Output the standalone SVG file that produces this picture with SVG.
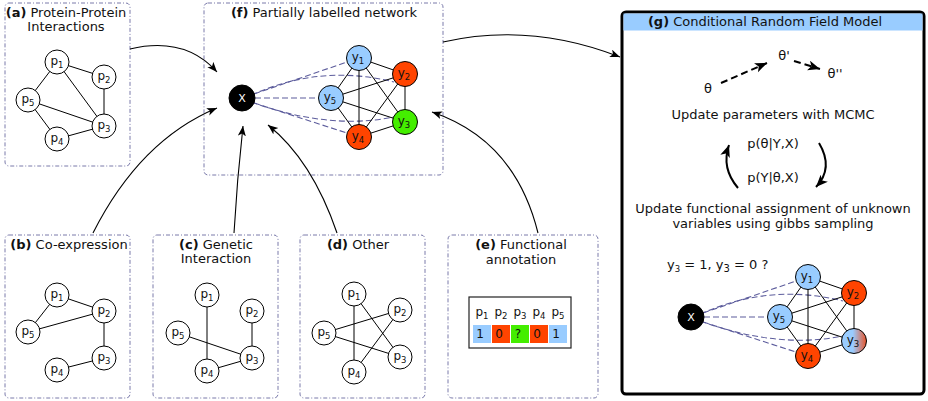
<svg xmlns="http://www.w3.org/2000/svg" width="928" height="401" viewBox="0 0 928 401">
  <defs>
    <style>
      text { font-family: "DejaVu Sans", "Liberation Sans", sans-serif; fill: #111; }
      .panel { fill: #fff; stroke: #7a7aaa; stroke-width: 1; stroke-dasharray: 4 2 1 2; }
      .title { font-size: 13px; text-anchor: middle; }
      .title tspan.b { font-weight: bold; }
      .node circle { fill: #fff; stroke: #000; stroke-width: 1; }
      .node circle.blue { fill: #99ccff; }
      .node circle.red { fill: #ff4400; }
      .node circle.green { fill: #44ee00; }
      .node circle.mixed { fill: url(#mixed); }
      .node circle.dark { fill: #000; }
      .lbl { font-size: 12px; text-anchor: middle; }
      .xl { font-size: 11px; text-anchor: middle; fill: #fff; }
      .sub { font-size: 8.5px; }
      .edge { stroke: #000; stroke-width: 1; fill: none; }
      .link { stroke: #5c5c9c; stroke-width: 1.1; fill: none; stroke-dasharray: 6 3; }
      .conn { stroke: #000; stroke-width: 1.1; fill: none; marker-end: url(#arrow); }
      .blue { fill: #99ccff; }
      .red { fill: #ff4400; }
      .green { fill: #44ee00; }
      .body { font-size: 13px; text-anchor: middle; }
    </style>
    <marker id="arrow" markerUnits="userSpaceOnUse" markerWidth="12" markerHeight="10" refX="10" refY="4" orient="auto">
      <path d="M0,0 L10,4 L0,8 L2.5,4 Z" fill="#000"/>
    </marker>
    <marker id="arrowBig" markerUnits="userSpaceOnUse" markerWidth="14" markerHeight="12" refX="12" refY="5" orient="auto">
      <path d="M0,0 L12,5 L0,10 L3,5 Z" fill="#000"/>
    </marker>
    <linearGradient id="mixed" x1="0" y1="0" x2="1" y2="0">
      <stop offset="0.45" stop-color="#99ccff"/>
      <stop offset="1" stop-color="#e8552a"/>
    </linearGradient>
  </defs>

  <!-- panel frames -->
  <g id="panel-a">
    <rect class="panel" x="5" y="3" width="125" height="163" rx="4"/>
    <text class="title" x="66" y="17"><tspan class="b">(a)</tspan> Protein-Protein</text>
    <text class="title" x="66" y="31">Interactions</text>
  </g>
  <g id="panel-b">
    <rect class="panel" x="5" y="235" width="125" height="163" rx="4"/>
    <text class="title" x="69" y="249"><tspan class="b">(b)</tspan> Co-expression</text>
  </g>
  <g id="panel-c">
    <rect class="panel" x="153" y="235" width="125" height="163" rx="4"/>
    <text class="title" x="216" y="249"><tspan class="b">(c)</tspan> Genetic</text>
    <text class="title" x="216" y="263">Interaction</text>
  </g>
  <g id="panel-d">
    <rect class="panel" x="300" y="235" width="125" height="163" rx="4"/>
    <text class="title" x="358" y="249"><tspan class="b">(d)</tspan> Other</text>
  </g>
  <g id="panel-e">
    <rect class="panel" x="448" y="235" width="150" height="163" rx="4"/>
    <text class="title" x="521" y="249"><tspan class="b">(e)</tspan> Functional</text>
    <text class="title" x="521" y="264">annotation</text>
  </g>
  <g id="panel-f">
    <rect class="panel" x="204" y="3" width="239" height="172" rx="4"/>
    <text class="title" x="324" y="17"><tspan class="b">(f)</tspan> Partially labelled network</text>
  </g>
  <g id="panel-g">
    <rect x="622" y="12" width="302" height="382" rx="4" fill="#fff" stroke="#000" stroke-width="3"/>
    <rect x="623.5" y="13.5" width="299" height="17" fill="#99ccff"/>
    <text class="title" x="765" y="26"><tspan class="b">(g)</tspan> Conditional Random Field Model</text>
  </g>

  <!-- (a) protein-protein interaction graph -->
  <g id="graph-a">
    <g class="edges">
      <line class="edge" x1="57" y1="62" x2="104" y2="77"/>
      <line class="edge" x1="57" y1="62" x2="28" y2="100"/>
      <line class="edge" x1="57" y1="62" x2="104" y2="126"/>
      <line class="edge" x1="104" y1="77" x2="104" y2="126"/>
      <line class="edge" x1="28" y1="100" x2="104" y2="126"/>
      <line class="edge" x1="28" y1="100" x2="57" y2="139"/>
      <line class="edge" x1="57" y1="139" x2="104" y2="126"/>
    </g>
    <g id="a-p1" class="node"><circle cx="57" cy="62" r="12"/><text class="lbl" x="57" y="65">p<tspan class="sub" dy="3">1</tspan></text></g>
    <g id="a-p2" class="node"><circle cx="104" cy="77" r="12"/><text class="lbl" x="104" y="80">p<tspan class="sub" dy="3">2</tspan></text></g>
    <g id="a-p5" class="node"><circle cx="28" cy="100" r="12"/><text class="lbl" x="28" y="103">p<tspan class="sub" dy="3">5</tspan></text></g>
    <g id="a-p3" class="node"><circle cx="104" cy="126" r="12"/><text class="lbl" x="104" y="129">p<tspan class="sub" dy="3">3</tspan></text></g>
    <g id="a-p4" class="node"><circle cx="57" cy="139" r="12"/><text class="lbl" x="57" y="142">p<tspan class="sub" dy="3">4</tspan></text></g>
  </g>

  <!-- (b) co-expression graph -->
  <g id="graph-b">
    <g class="edges">
      <line class="edge" x1="57" y1="295" x2="104" y2="311"/>
      <line class="edge" x1="57" y1="295" x2="28" y2="332"/>
      <line class="edge" x1="28" y1="332" x2="104" y2="311"/>
      <line class="edge" x1="104" y1="311" x2="104" y2="358"/>
      <line class="edge" x1="57" y1="370" x2="104" y2="358"/>
    </g>
    <g id="b-p1" class="node"><circle cx="57" cy="295" r="12"/><text class="lbl" x="57" y="298">p<tspan class="sub" dy="3">1</tspan></text></g>
    <g id="b-p2" class="node"><circle cx="104" cy="311" r="12"/><text class="lbl" x="104" y="314">p<tspan class="sub" dy="3">2</tspan></text></g>
    <g id="b-p5" class="node"><circle cx="28" cy="332" r="12"/><text class="lbl" x="28" y="335">p<tspan class="sub" dy="3">5</tspan></text></g>
    <g id="b-p3" class="node"><circle cx="104" cy="358" r="12"/><text class="lbl" x="104" y="361">p<tspan class="sub" dy="3">3</tspan></text></g>
    <g id="b-p4" class="node"><circle cx="57" cy="370" r="12"/><text class="lbl" x="57" y="373">p<tspan class="sub" dy="3">4</tspan></text></g>
  </g>

  <!-- (c) genetic interaction graph -->
  <g id="graph-c">
    <g class="edges">
      <line class="edge" x1="207" y1="295" x2="207" y2="371"/>
      <line class="edge" x1="252" y1="311" x2="252" y2="358"/>
      <line class="edge" x1="178" y1="333" x2="252" y2="358"/>
      <line class="edge" x1="207" y1="371" x2="252" y2="358"/>
    </g>
    <g id="c-p1" class="node"><circle cx="207" cy="295" r="12"/><text class="lbl" x="207" y="298">p<tspan class="sub" dy="3">1</tspan></text></g>
    <g id="c-p2" class="node"><circle cx="252" cy="311" r="12"/><text class="lbl" x="252" y="314">p<tspan class="sub" dy="3">2</tspan></text></g>
    <g id="c-p5" class="node"><circle cx="178" cy="333" r="12"/><text class="lbl" x="178" y="336">p<tspan class="sub" dy="3">5</tspan></text></g>
    <g id="c-p3" class="node"><circle cx="252" cy="358" r="12"/><text class="lbl" x="252" y="361">p<tspan class="sub" dy="3">3</tspan></text></g>
    <g id="c-p4" class="node"><circle cx="207" cy="371" r="12"/><text class="lbl" x="207" y="374">p<tspan class="sub" dy="3">4</tspan></text></g>
  </g>

  <!-- (d) other evidence graph -->
  <g id="graph-d">
    <g class="edges">
      <line class="edge" x1="354" y1="294" x2="354" y2="372"/>
      <line class="edge" x1="354" y1="294" x2="400" y2="357"/>
      <line class="edge" x1="324" y1="333" x2="400" y2="310"/>
      <line class="edge" x1="324" y1="333" x2="400" y2="357"/>
      <line class="edge" x1="354" y1="372" x2="400" y2="310"/>
    </g>
    <g id="d-p1" class="node"><circle cx="354" cy="294" r="12"/><text class="lbl" x="354" y="297">p<tspan class="sub" dy="3">1</tspan></text></g>
    <g id="d-p2" class="node"><circle cx="400" cy="310" r="12"/><text class="lbl" x="400" y="313">p<tspan class="sub" dy="3">2</tspan></text></g>
    <g id="d-p5" class="node"><circle cx="324" cy="333" r="12"/><text class="lbl" x="324" y="336">p<tspan class="sub" dy="3">5</tspan></text></g>
    <g id="d-p3" class="node"><circle cx="400" cy="357" r="12"/><text class="lbl" x="400" y="360">p<tspan class="sub" dy="3">3</tspan></text></g>
    <g id="d-p4" class="node"><circle cx="354" cy="372" r="12"/><text class="lbl" x="354" y="375">p<tspan class="sub" dy="3">4</tspan></text></g>
  </g>

  <!-- (e) annotation table -->
  <g id="table-e">
    <rect x="469" y="297" width="102" height="51" fill="#fff" stroke="#222" stroke-width="1.2"/>
    <text class="lbl" x="482" y="316">p<tspan class="sub" dy="3">1</tspan></text>
    <text class="lbl" x="501" y="316">p<tspan class="sub" dy="3">2</tspan></text>
    <text class="lbl" x="520" y="316">p<tspan class="sub" dy="3">3</tspan></text>
    <text class="lbl" x="539" y="316">p<tspan class="sub" dy="3">4</tspan></text>
    <text class="lbl" x="558" y="316">p<tspan class="sub" dy="3">5</tspan></text>
    <rect class="blue" x="473" y="325" width="18" height="18"/>
    <rect class="red" x="492" y="325" width="18" height="18"/>
    <rect class="green" x="511" y="325" width="18" height="18"/>
    <rect class="red" x="530" y="325" width="18" height="18"/>
    <rect class="blue" x="549" y="325" width="18" height="18"/>
    <text class="lbl" x="480" y="338">1</text>
    <text class="lbl" x="499" y="338">0</text>
    <text class="lbl" x="518" y="338">?</text>
    <text class="lbl" x="537" y="338">0</text>
    <text class="lbl" x="556" y="338">1</text>
  </g>

  <!-- (f) partially labelled network -->
  <g id="network-f">
    <g class="links">
      <line class="link" x1="254" y1="94" x2="347" y2="62"/>
      <path class="link" d="M254,94 Q322,64 394,82" stroke-dashoffset="3"/>
      <line class="link" x1="255" y1="98" x2="318" y2="98"/>
      <line class="link" x1="254" y1="103" x2="347" y2="133"/>
      <path class="link" d="M254,103 Q330,130 394,117" stroke-dashoffset="3"/>
    </g>
    <g class="edges">
      <line class="edge" x1="359" y1="58" x2="405" y2="74"/>
      <line class="edge" x1="359" y1="58" x2="331" y2="98"/>
      <line class="edge" x1="359" y1="58" x2="359" y2="137"/>
      <line class="edge" x1="359" y1="58" x2="405" y2="122"/>
      <line class="edge" x1="405" y1="74" x2="331" y2="98"/>
      <line class="edge" x1="405" y1="74" x2="359" y2="137"/>
      <line class="edge" x1="405" y1="74" x2="405" y2="122"/>
      <line class="edge" x1="331" y1="98" x2="405" y2="122"/>
      <line class="edge" x1="331" y1="98" x2="359" y2="137"/>
      <line class="edge" x1="359" y1="137" x2="405" y2="122"/>
    </g>
    <g id="f-x" class="node"><circle class="dark" cx="242" cy="98" r="13"/><text class="xl" x="242" y="102">X</text></g>
    <g id="f-y1" class="node"><circle class="blue" cx="359" cy="58" r="12.5"/><text class="lbl" x="358" y="61">y<tspan class="sub" dy="3">1</tspan></text></g>
    <g id="f-y2" class="node"><circle class="red" cx="405" cy="74" r="12.5"/><text class="lbl" x="404" y="77">y<tspan class="sub" dy="3">2</tspan></text></g>
    <g id="f-y5" class="node"><circle class="blue" cx="331" cy="98" r="12.5"/><text class="lbl" x="330" y="101">y<tspan class="sub" dy="3">5</tspan></text></g>
    <g id="f-y3" class="node"><circle class="green" cx="405" cy="122" r="12.5"/><text class="lbl" x="404" y="125">y<tspan class="sub" dy="3">3</tspan></text></g>
    <g id="f-y4" class="node"><circle class="red" cx="359" cy="137" r="12.5"/><text class="lbl" x="358" y="140">y<tspan class="sub" dy="3">4</tspan></text></g>
  </g>

  <!-- (g) CRF model contents -->
  <g id="crf-text">
    <text class="body" x="708" y="93">θ</text>
    <text class="body" x="784" y="60">θ'</text>
    <text class="body" x="835" y="78">θ''</text>
    <text class="body" x="773" y="119">Update parameters with MCMC</text>
    <text class="body" x="773" y="148">p(θ|Y,X)</text>
    <text class="body" x="773" y="182">p(Y|θ,X)</text>
    <text class="body" x="773" y="213">Update functional assignment of unknown</text>
    <text class="body" x="773" y="228">variables using gibbs sampling</text>
    <text class="body" x="667" y="269" style="text-anchor:start">y<tspan class="sub" font-size="10" dy="3">3</tspan><tspan dy="-3"> = 1, y</tspan><tspan font-size="10" dy="3">3</tspan><tspan dy="-3"> = 0 ?</tspan></text>
  </g>
  <g id="crf-arrows" fill="none" stroke="#000">
    <line x1="721" y1="83" x2="767" y2="63" stroke-width="2" stroke-dasharray="7 4" marker-end="url(#arrowBig)"/>
    <line x1="794" y1="61" x2="820" y2="69" stroke-width="2" stroke-dasharray="7 4" marker-end="url(#arrowBig)"/>
    <path d="M738,188 Q721,168 729,145" stroke-width="2" marker-end="url(#arrowBig)"/>
    <path d="M819,143 Q834,168 816,187" stroke-width="2" marker-end="url(#arrowBig)"/>
  </g>

  <g id="network-g" transform="translate(449,219)">
    <g class="links">
      <line class="link" x1="254" y1="94" x2="347" y2="62"/>
      <path class="link" d="M254,94 Q322,64 394,82" stroke-dashoffset="3"/>
      <line class="link" x1="255" y1="98" x2="318" y2="98"/>
      <line class="link" x1="254" y1="103" x2="347" y2="133"/>
      <path class="link" d="M254,103 Q330,130 394,117" stroke-dashoffset="3"/>
    </g>
    <g class="edges">
      <line class="edge" x1="359" y1="58" x2="405" y2="74"/>
      <line class="edge" x1="359" y1="58" x2="331" y2="98"/>
      <line class="edge" x1="359" y1="58" x2="359" y2="137"/>
      <line class="edge" x1="359" y1="58" x2="405" y2="122"/>
      <line class="edge" x1="405" y1="74" x2="331" y2="98"/>
      <line class="edge" x1="405" y1="74" x2="359" y2="137"/>
      <line class="edge" x1="405" y1="74" x2="405" y2="122"/>
      <line class="edge" x1="331" y1="98" x2="405" y2="122"/>
      <line class="edge" x1="331" y1="98" x2="359" y2="137"/>
      <line class="edge" x1="359" y1="137" x2="405" y2="122"/>
    </g>
    <g id="g-x" class="node"><circle class="dark" cx="242" cy="98" r="13"/><text class="xl" x="242" y="102">X</text></g>
    <g id="g-y1" class="node"><circle class="blue" cx="359" cy="58" r="12.5"/><text class="lbl" x="358" y="61">y<tspan class="sub" dy="3">1</tspan></text></g>
    <g id="g-y2" class="node"><circle class="red" cx="405" cy="74" r="12.5"/><text class="lbl" x="404" y="77">y<tspan class="sub" dy="3">2</tspan></text></g>
    <g id="g-y5" class="node"><circle class="blue" cx="331" cy="98" r="12.5"/><text class="lbl" x="330" y="101">y<tspan class="sub" dy="3">5</tspan></text></g>
    <g id="g-y3" class="node"><circle class="mixed" cx="405" cy="122" r="12.5"/><text class="lbl" x="404" y="125">y<tspan class="sub" dy="3">3</tspan></text></g>
    <g id="g-y4" class="node"><circle class="red" cx="359" cy="137" r="12.5"/><text class="lbl" x="358" y="140">y<tspan class="sub" dy="3">4</tspan></text></g>
  </g>

  <!-- connectors between panels -->
  <g id="connectors">
    <path class="conn" d="M130,49 Q185,36 217,72"/>
    <path class="conn" d="M93,233 Q140,140 217,108"/>
    <path class="conn" d="M234,233 Q237,180 243,126"/>
    <path class="conn" d="M337,233 Q312,160 268,125"/>
    <path class="conn" d="M538,233 Q515,140 432,112"/>
    <path class="conn" d="M443,42 Q530,22 620,57"/>
  </g>
</svg>
